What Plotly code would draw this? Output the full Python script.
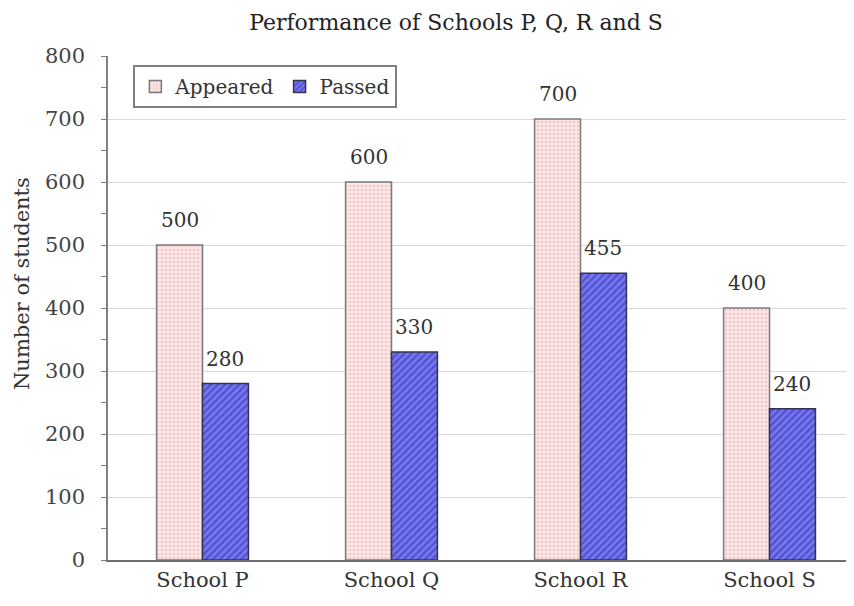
import plotly.graph_objects as go

schools = ["School P", "School Q", "School R", "School S"]
appeared = [500, 600, 700, 400]
passed = [280, 330, 455, 240]
y_ticks = [0, 100, 200, 300, 400, 500, 600, 700, 800]

FONT = "DejaVu Serif"
xs = list(range(len(schools)))
bw = 0.243

fig = go.Figure()
fig.add_trace(go.Bar(
    x=[x - bw / 2 for x in xs], y=appeared, name="Appeared", width=bw,
    marker=dict(color="#fde6e6",
                pattern=dict(shape=".", fgcolor="#e3a9a9", bgcolor="#fde6e6", size=4, solidity=0.35),
                line=dict(color="#7a7a7a", width=1.5)),
))
fig.add_trace(go.Bar(
    x=[x + bw / 2 for x in xs], y=passed, name="Passed", width=bw,
    marker=dict(color="#6a6ae8",
                pattern=dict(shape="/", fgcolor="#2a2ac0", bgcolor="#7a7aec", size=5, solidity=0.5),
                line=dict(color="#33334d", width=1.5)),
))

annotations = []
for i, (a, p) in enumerate(zip(appeared, passed)):
    annotations.append(dict(x=i - bw / 2, y=a, text=str(a), showarrow=False,
                            yanchor="middle", yshift=25, font=dict(family=FONT, size=20, color="#333")))
    annotations.append(dict(x=i + bw / 2, y=p, text=str(p), showarrow=False,
                            yanchor="middle", yshift=25, font=dict(family=FONT, size=20, color="#333")))
annotations.append(dict(text="Number of students", xref="paper", yref="paper",
                        x=-0.115, y=0.548, xanchor="center", yanchor="middle", textangle=-90,
                        showarrow=False, font=dict(family=FONT, size=21, color="#333")))

fig.update_layout(
    width=846, height=598,
    margin=dict(l=100, r=0, t=48, b=46),
    paper_bgcolor="white", plot_bgcolor="white",
    barmode="overlay",
    title=dict(text="Performance of Schools P, Q, R and S", xref="container", x=448 / 846,
               xanchor="center", yref="container", y=1 - 14 / 598, yanchor="middle",
               font=dict(family=FONT, size=22, color="#222")),
    showlegend=True,
    legend=dict(orientation="h", x=0.034, y=0.982, xanchor="left", yanchor="top",
                bgcolor="white", bordercolor="#808080", borderwidth=2,
                font=dict(family=FONT, size=20, color="#333"), itemwidth=30),
    annotations=annotations,
)
fig.update_xaxes(
    range=[-0.5, 3.447], tickvals=xs, ticktext=schools, showgrid=False,
    showline=True, linecolor="#6f6f6f", linewidth=2, ticks="",
    tickfont=dict(family=FONT, size=21, color="#333"), zeroline=False,
)
fig.update_yaxes(
    range=[0, 800], tickvals=y_ticks, showgrid=True, gridcolor="#d9d9d9", gridwidth=1,
    showline=True, linecolor="#7f7f7f", linewidth=1.5, ticks="outside", ticklen=5, tickcolor="#7f7f7f",
    minor=dict(dtick=50, ticks="outside", ticklen=5, tickcolor="#7f7f7f", showgrid=False),
    tickfont=dict(family=FONT, size=21, color="#444"), zeroline=False, ticklabelstandoff=12,
)

fig.write_html("out.html")
